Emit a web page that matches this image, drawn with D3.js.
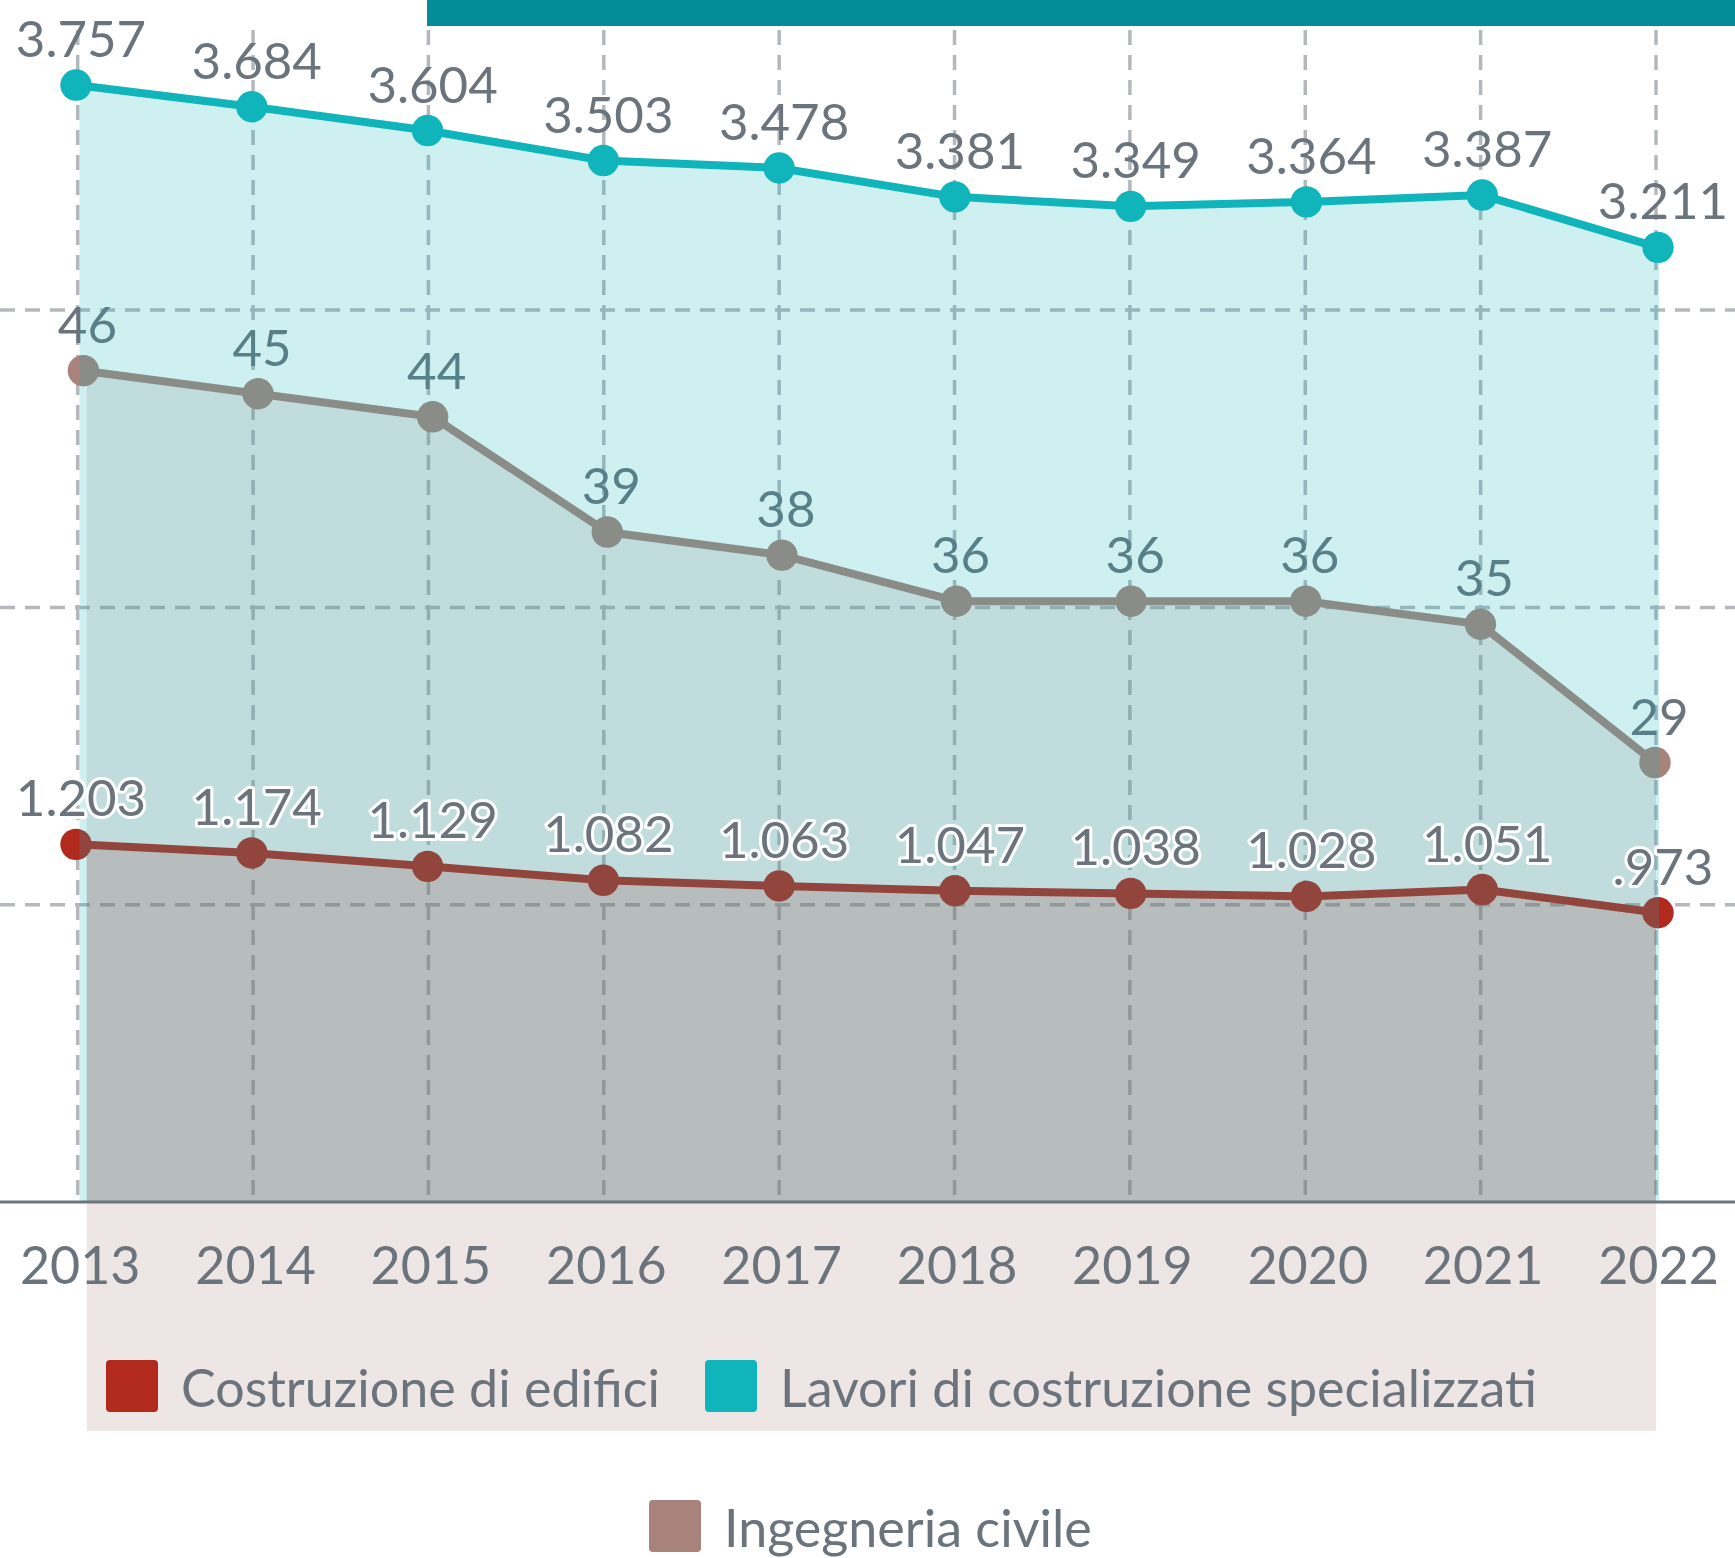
<!DOCTYPE html>
<html>
<head>
<meta charset="utf-8">
<script src="https://cdn.jsdelivr.net/npm/d3@7"></script>
<style>
  body { margin: 0; background: #fff; }
  svg { display: block; font-family: Lato, "Open Sans", sans-serif; }
</style>
</head>
<body>
<div class="chart"></div>
<script>
// DATA ------------------------------
const years = [2013, 2014, 2015, 2016, 2017, 2018, 2019, 2020, 2021, 2022];
const costruzione = [1.203, 1.174, 1.129, 1.082, 1.063, 1.047, 1.038, 1.028, 1.051, 0.973];
const lavori = [3.757, 3.684, 3.604, 3.503, 3.478, 3.381, 3.349, 3.364, 3.387, 3.211];
const ingegneria = [46, 45, 44, 39, 38, 36, 36, 36, 35, 29];
const gridValues = [1, 2, 3];
const legendNames = ["Costruzione di edifici", "Lavori di costruzione specializzati", "Ingegneria civile"];
const colors = ["#b22a1e", "#10b4bb", "#a8837b"];

// CHART INIT ------------------------------
const width = 1735;
const height = 1558;
const baseY = 1202;
const textCol = "#6b747d";
const gridCol = "#b4b8bd";
const lineW = 8;

const svg = d3.select(".chart")
    .append("svg")
    .attr("width", width)
    .attr("height", height);

// scales (the original mixes a few slightly shifted x positions)
const xPt = d3.scalePoint().domain(years).range([76, 1658]);
const xIng = d3.scalePoint().domain(years).range([83.4, 1655]);
const xGrid = d3.scalePoint().domain(years).range([77.7, 1656]);
const xAreaLav = d3.scalePoint().domain(years).range([79.5, 1659]);
const xAreaLow = d3.scalePoint().domain(years).range([86.7, 1656]);

const yMain = d3.scaleLinear().domain([0, 4]).range([baseY, baseY - 4 * 297.3]);
const yIng = d3.scaleLinear().domain([0, 50]).range([1431, 1431 - 50 * 23.05]);

const fmtMain = v => d3.format(".3f")(v).replace(/^0\./, ".");

// top bar
svg.append("rect")
    .attr("x", 427).attr("y", 0)
    .attr("width", width - 427).attr("height", 26)
    .attr("fill", "#038d99");

// gridlines
svg.append("g").selectAll("line")
    .data(gridValues)
    .join("line")
    .attr("x1", 0).attr("x2", width)
    .attr("y1", d => yMain(d)).attr("y2", d => yMain(d))
    .attr("stroke", gridCol).attr("stroke-width", 3.5)
    .attr("stroke-dasharray", "15,10");

svg.append("g").selectAll("line")
    .data(years)
    .join("line")
    .attr("x1", d => xGrid(d)).attr("x2", d => xGrid(d))
    .attr("y1", 30).attr("y2", baseY)
    .attr("stroke", gridCol).attr("stroke-width", 3.5)
    .attr("stroke-dasharray", "15,10");

// INGEGNERIA + COSTRUZIONE (under the teal layer)
const ingData = years.map((y, i) => ({year: y, v: ingegneria[i]}));
const cosData = years.map((y, i) => ({year: y, v: costruzione[i]}));
const lavData = years.map((y, i) => ({year: y, v: lavori[i]}));

svg.append("path")
    .datum(ingData)
    .attr("fill", colors[2]).attr("fill-opacity", 0.2)
    .attr("d", d3.area().x(d => xAreaLow(d.year)).y0(yIng(0)).y1(d => yIng(d.v)));

svg.append("path")
    .datum(cosData)
    .attr("fill", colors[0]).attr("fill-opacity", 0.2)
    .attr("d", d3.area().x(d => xAreaLow(d.year)).y0(yMain(0)).y1(d => yMain(d.v)));

svg.append("path")
    .datum(ingData)
    .attr("fill", "none").attr("stroke", colors[2]).attr("stroke-width", lineW)
    .attr("d", d3.line().x(d => xIng(d.year)).y(d => yIng(d.v)));
svg.append("g").selectAll("circle")
    .data(ingData)
    .join("circle")
    .attr("cx", d => xIng(d.year)).attr("cy", d => yIng(d.v))
    .attr("r", 15.7).attr("fill", colors[2]);
svg.append("g").selectAll("text")
    .data(ingData)
    .join("text")
    .attr("x", d => xIng(d.year) + 4).attr("y", d => yIng(d.v) - 28)
    .attr("text-anchor", "middle")
    .attr("font-size", "51px").attr("fill", textCol)
    .text(d => d.v);

svg.append("path")
    .datum(cosData)
    .attr("fill", "none").attr("stroke", colors[0]).attr("stroke-width", lineW)
    .attr("d", d3.line().x(d => xPt(d.year)).y(d => yMain(d.v)));
svg.append("g").selectAll("circle")
    .data(cosData)
    .join("circle")
    .attr("cx", d => xPt(d.year)).attr("cy", d => yMain(d.v))
    .attr("r", 15.7).attr("fill", colors[0]);

// LAVORI (teal layer on top)
svg.append("path")
    .datum(lavData)
    .attr("fill", colors[1]).attr("fill-opacity", 0.2)
    .attr("d", d3.area().x(d => xAreaLav(d.year)).y0(yMain(0)).y1(d => yMain(d.v)));
svg.append("path")
    .datum(lavData)
    .attr("fill", "none").attr("stroke", colors[1]).attr("stroke-width", lineW)
    .attr("d", d3.line().x(d => xPt(d.year)).y(d => yMain(d.v)));
svg.append("g").selectAll("circle")
    .data(lavData)
    .join("circle")
    .attr("cx", d => xPt(d.year)).attr("cy", d => yMain(d.v))
    .attr("r", 15.7).attr("fill", colors[1]);
svg.append("g").selectAll("text")
    .data(lavData)
    .join("text")
    .attr("x", d => xPt(d.year) + 5).attr("y", d => yMain(d.v) - 28)
    .attr("text-anchor", "middle")
    .attr("font-size", "51px").attr("fill", textCol)
    .text(d => fmtMain(d.v));

// costruzione labels with white halo
svg.append("g").selectAll("text")
    .data(cosData)
    .join("text")
    .attr("x", d => xPt(d.year) + 5).attr("y", d => yMain(d.v) - 28)
    .attr("text-anchor", "middle")
    .attr("font-size", "51px").attr("fill", textCol)
    .attr("stroke", "#fff").attr("stroke-width", 6).attr("stroke-linejoin", "round")
    .attr("paint-order", "stroke")
    .text(d => fmtMain(d.v));

// X AXIS
const xAxis = d3.axisBottom(xGrid).tickSize(0).tickPadding(0).tickFormat(d => d);
const gx = svg.append("g")
    .attr("class", "axis x-axis")
    .attr("transform", `translate(2, ${baseY})`)
    .call(xAxis);
gx.select(".domain").remove();
gx.selectAll("text")
    .attr("y", 82).attr("dy", 0)
    .attr("font-family", "Lato, sans-serif")
    .attr("font-size", "52px").attr("fill", textCol);

svg.append("line")
    .attr("x1", 0).attr("x2", width)
    .attr("y1", baseY).attr("y2", baseY)
    .attr("stroke", "#6d767e").attr("stroke-width", 3);

// LEGEND
const legendPos = [{x: 106, y: 1360}, {x: 705, y: 1360}, {x: 649, y: 1500}];
const lg = svg.append("g").selectAll("g")
    .data(legendNames)
    .join("g")
    .attr("transform", (d, i) => `translate(${legendPos[i].x}, ${legendPos[i].y})`);
lg.append("rect")
    .attr("width", 52).attr("height", 52).attr("rx", 4)
    .attr("fill", (d, i) => colors[i]);
lg.append("text")
    .attr("x", 75).attr("y", 47)
    .attr("font-size", "52px").attr("fill", textCol)
    .text(d => d);
</script>
</body>
</html>
